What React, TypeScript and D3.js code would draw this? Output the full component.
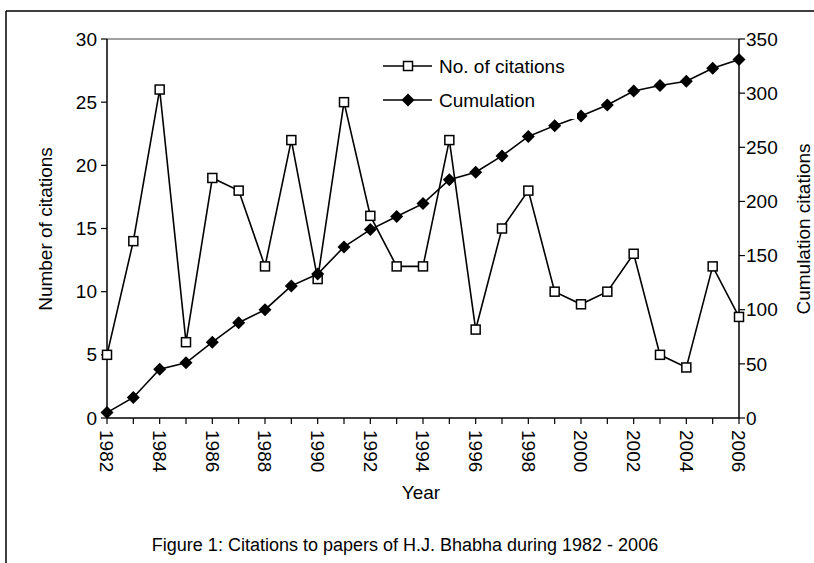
import * as React from "react";
import * as d3 from "d3";

const years = d3.range(1982, 2007);
const citations = [5, 14, 26, 6, 19, 18, 12, 22, 11, 25, 16, 12, 12, 22, 7, 15, 18, 10, 9, 10, 13, 5, 4, 12, 8];
const cumulation = [5, 19, 45, 51, 70, 88, 100, 122, 133, 158, 174, 186, 198, 220, 227, 242, 260, 270, 279, 289, 302, 307, 311, 323, 331];
const leftTicks = [0, 5, 10, 15, 20, 25, 30];
const rightTicks = [0, 50, 100, 150, 200, 250, 300, 350];
const yearLabels = years.filter(y => y % 2 === 0);

const W = 814, H = 563;
const margin = { left: 107, right: 739, top: 39, bottom: 418 };
const font = "'Liberation Sans', Arial, sans-serif";
const fs = 19;

export default function App() {
    const x = d3.scaleLinear().domain([1982, 2006]).range([margin.left, margin.right]);
    const yL = d3.scaleLinear().domain([0, 30]).range([margin.bottom, margin.top]);
    const yR = d3.scaleLinear().domain([0, 350]).range([margin.bottom, margin.top]);

    const citeLine = d3.line<number>().x((_d, i) => x(years[i])).y(d => yL(d));
    const cumLine = d3.line<number>().x((_d, i) => x(years[i])).y(d => yR(d));

    const sq = 9;
    const dm = 6.5;
    const diamond = (cx: number, cy: number) => `M${cx},${cy - dm}L${cx + dm},${cy}L${cx},${cy + dm}L${cx - dm},${cy}Z`;

    return <svg width={W} height={H} style={{ position: "absolute", left: 0, top: 0, background: "#fff" }} fontFamily={font}>
        {/* frame */}
        <line x1={6} y1={11} x2={W} y2={11} stroke="#000" strokeWidth={1.5} />
        <line x1={6} y1={11} x2={6} y2={H} stroke="#000" strokeWidth={1.5} />

        {/* plot border top */}
        <line x1={margin.left} x2={margin.right} y1={margin.top} y2={margin.top} stroke="#808080" strokeWidth={1.5} />

        {/* axes */}
        <line x1={margin.left} x2={margin.left} y1={margin.top} y2={margin.bottom} stroke="#000" strokeWidth={1.5} />
        <line x1={margin.right} x2={margin.right} y1={margin.top} y2={margin.bottom} stroke="#000" strokeWidth={1.5} />
        <line x1={margin.left} x2={margin.right} y1={margin.bottom} y2={margin.bottom} stroke="#000" strokeWidth={1.5} />

        {leftTicks.map(t => <g key={"l" + t}>
            <line x1={margin.left - 6} x2={margin.left} y1={yL(t)} y2={yL(t)} stroke="#000" strokeWidth={1.2} />
            <text x={margin.left - 10} y={yL(t)} dy="0.35em" textAnchor="end" fontSize={fs}>{t}</text>
        </g>)}
        {rightTicks.map(t => <g key={"r" + t}>
            <line x1={margin.right} x2={margin.right + 6} y1={yR(t)} y2={yR(t)} stroke="#000" strokeWidth={1.2} />
            <text x={margin.right + 7} y={yR(t)} dy="0.35em" textAnchor="start" fontSize={fs}>{t}</text>
        </g>)}
        {years.map(yr => <line key={"x" + yr} x1={x(yr)} x2={x(yr)} y1={margin.bottom} y2={margin.bottom + 6} stroke="#000" strokeWidth={1.2} />)}
        {yearLabels.map(yr => <text key={"xl" + yr} transform={`translate(${x(yr)},${margin.bottom + 12}) rotate(90)`} dy="0.35em" fontSize={fs}>{yr}</text>)}

        {/* titles */}
        <text transform="translate(45,229) rotate(-90)" textAnchor="middle" dy="0.35em" fontSize={fs}>Number of citations</text>
        <text transform="translate(803,229) rotate(-90)" textAnchor="middle" dy="0.35em" fontSize={fs}>Cumulation citations</text>
        <text x={421} y={499} textAnchor="middle" fontSize={fs}>Year</text>
        <text x={405} y={551} textAnchor="middle" fontSize={18}>Figure 1: Citations to papers of H.J. Bhabha during 1982 - 2006</text>

        {/* series */}
        <path d={citeLine(citations) || ""} fill="none" stroke="#000" strokeWidth={1.6} />
        {citations.map((d, i) => <rect key={"c" + i} x={x(years[i]) - sq / 2} y={yL(d) - sq / 2} width={sq} height={sq} fill="#fff" stroke="#000" strokeWidth={1.5} />)}
        <path d={cumLine(cumulation) || ""} fill="none" stroke="#000" strokeWidth={1.6} />
        {cumulation.map((d, i) => <path key={"m" + i} d={diamond(x(years[i]), yR(d))} fill="#000" />)}

        {/* legend */}
        <rect x={378} y={48} width={199} height={71} fill="#fff" />
        <line x1={383} x2={432} y1={66} y2={66} stroke="#000" strokeWidth={1.6} />
        <rect x={408 - sq / 2} y={66 - sq / 2} width={sq} height={sq} fill="#fff" stroke="#000" strokeWidth={1.5} />
        <text x={439} y={66} dy="0.35em" fontSize={fs}>No. of citations</text>
        <line x1={383} x2={432} y1={100} y2={100} stroke="#000" strokeWidth={1.6} />
        <path d={diamond(408, 100)} fill="#000" />
        <text x={439} y={100} dy="0.35em" fontSize={fs}>Cumulation</text>
    </svg>;
}
